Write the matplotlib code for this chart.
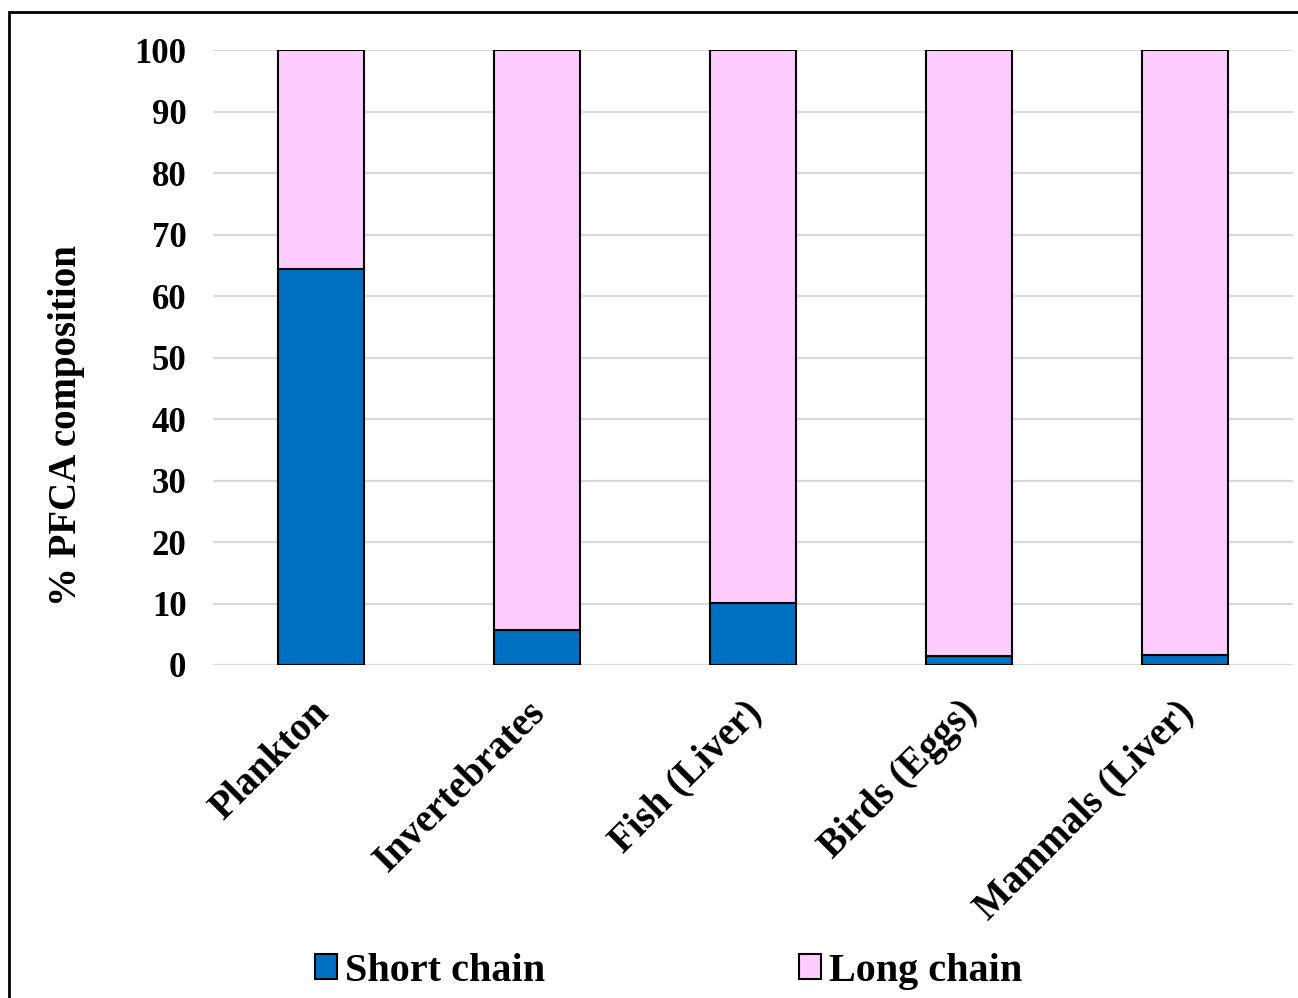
import matplotlib
matplotlib.use("Agg")
import matplotlib.pyplot as plt
import matplotlib.transforms as mtransforms
from matplotlib.patches import Rectangle

# Veriler
categories = ["Plankton", "Invertebrates", "Fish (Liver)", "Birds (Eggs)", "Mammals (Liver)"]
short_chain = [64.4, 5.7, 10.1, 1.5, 1.7]
long_chain = [100 - v for v in short_chain]
yticks = [0, 10, 20, 30, 40, 50, 60, 70, 80, 90, 100]

plt.rcParams['font.family'] = ['Liberation Serif', 'DejaVu Serif']
plt.rcParams['font.weight'] = 'bold'

fig = plt.figure(figsize=(12.98, 9.98), dpi=100)
ax = fig.add_axes([0.164, 0.3337, 0.832, 0.6157])

x = range(len(categories))
ax.bar(x, short_chain, width=0.4, color='#0070C0', edgecolor='black', linewidth=1.5,
       label='Short chain', zorder=3)
ax.bar(x, long_chain, width=0.4, bottom=short_chain, color='#FFCCFF', edgecolor='black',
       linewidth=1.5, label='Long chain', zorder=3)

ax.set_xlim(-0.5, 4.5)
ax.set_ylim(0, 100)
ax.set_yticks(yticks)
ax.set_yticklabels([str(t) for t in yticks], fontsize=25, fontweight='bold')
ax.set_xticks(list(x))
ax.set_xticklabels(categories, rotation=45, ha='right', rotation_mode='anchor',
                   fontsize=28, fontweight='bold')
ax.tick_params(axis='y', length=0, pad=19)
ax.tick_params(axis='x', length=0, pad=21)
ax.yaxis.grid(True, color='#d9d9d9', linewidth=1.5, zorder=0)
for s in ax.spines.values():
    s.set_visible(False)

# x etiketlerini biraz sola kaydır
offset = mtransforms.ScaledTranslation(-10 / 100, 0, fig.dpi_scale_trans)
for lbl in ax.get_xticklabels():
    lbl.set_transform(lbl.get_transform() + offset)

ax.set_ylabel('% PFCA composition', fontsize=28, fontweight='bold')
ax.yaxis.set_label_coords(-0.118, 0.39)

leg = fig.legend(loc='lower center', bbox_to_anchor=(0.515, -0.028), ncol=2, frameon=False,
                 prop={'weight': 'bold', 'size': 29},
                 handlelength=0.55, handleheight=0.6, handletextpad=0.2, columnspacing=6.3)

# Dış çerçeve
fig.patches.append(Rectangle((0.007, -0.1), 1.1, 0.988 + 0.1, transform=fig.transFigure,
                             fill=False, edgecolor='black', linewidth=2, clip_on=False))

fig.savefig('out.png', dpi=100)
